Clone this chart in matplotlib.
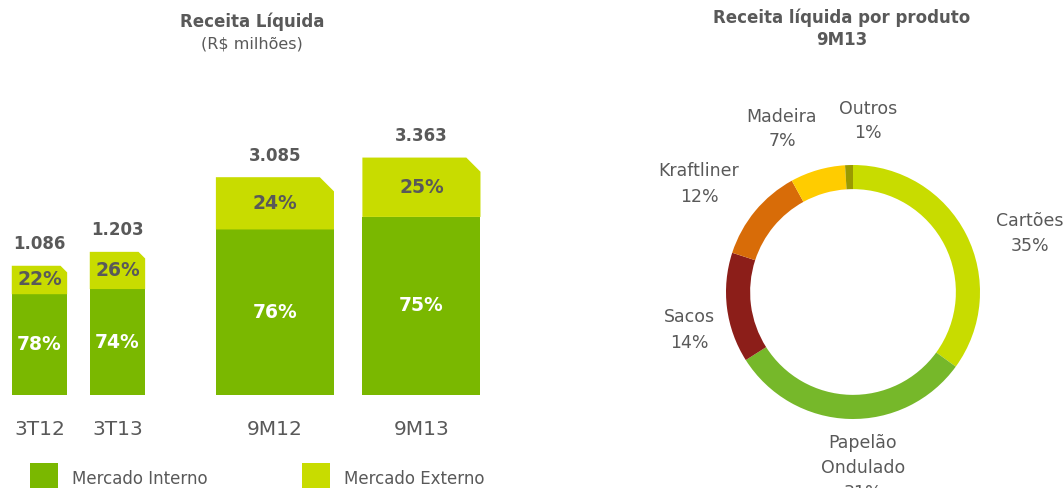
import matplotlib
matplotlib.use("Agg")
import matplotlib.pyplot as plt
from matplotlib.patches import Polygon, Rectangle

plt.rcParams['font.family'] = ['DejaVu Sans']

# ---------------- data ----------------
q_categories = ["3T12", "3T13"]
q_totals = [1086, 1203]
q_interno_pct = [78, 74]
q_externo_pct = [22, 26]

m_categories = ["9M12", "9M13"]
m_totals = [3085, 3363]
m_interno_pct = [76, 75]
m_externo_pct = [24, 25]

total_labels_q = ["1.086", "1.203"]
total_labels_m = ["3.085", "3.363"]

series_names = ["Mercado Interno", "Mercado Externo"]

prod_labels = ["Cartões", "Papelão\nOndulado", "Sacos", "Kraftliner", "Madeira", "Outros"]
prod_values = [35, 31, 14, 12, 7, 1]

# ---------------- style ----------------
C_INT = "#7AB800"
C_EXT = "#C8DC00"
GRAY = "#595959"
prod_colors = ["#C8DC00", "#76B82A", "#8C1E19", "#D86C08", "#FFCC00", "#9A9A00"]

W, H = 1064, 488
fig = plt.figure(figsize=(W / 100, H / 100), dpi=100)


def ax_px(x0, y_top, w, h):
    """axes from pixel coords (top-left origin)"""
    return fig.add_axes([x0 / W, (H - y_top - h) / H, w / W, h / H])


def draw_group(ax, cats, totals, ipct, epct, tlabels, width, xlim, ymax):
    ax.set_xlim(*xlim)
    ax.set_ylim(0, ymax)
    for s in ax.spines.values():
        s.set_visible(False)
    ax.set_yticks([])
    x = list(range(len(cats)))
    interno = [t * p / 100 for t, p in zip(totals, ipct)]
    externo = [t * p / 100 for t, p in zip(totals, epct)]
    ax.bar(x, interno, width=width, color=C_INT, linewidth=0)
    inv = ax.transData.inverted()
    for xi, yi, ye, tot, ip, ep, tl in zip(x, interno, externo, totals, ipct, epct, tlabels):
        x0, x1 = xi - width / 2, xi + width / 2
        top = yi + ye
        # clipped corner size: 12% of bar width, square in pixels
        cw = 0.12 * width
        p1 = ax.transData.transform((x1, top))
        p0 = ax.transData.transform((x1 - cw, top))
        cpx = p1[0] - p0[0]
        ch = top - inv.transform((p1[0], p1[1] - cpx))[1]
        poly = Polygon([(x0, yi), (x0, top), (x1 - cw, top), (x1, top - ch), (x1, yi)],
                       closed=True, facecolor=C_EXT, edgecolor="none")
        ax.add_patch(poly)
        ax.text(xi, yi / 2, f"{ip}%", ha="center", va="center", color="white",
                fontsize=13.5, fontweight="bold")
        ax.text(xi, yi + ye / 2, f"{ep}%", ha="center", va="center", color=GRAY,
                fontsize=13.5, fontweight="bold")
        ax.annotate(tl, (xi, top), xytext=(0, 9), textcoords="offset points",
                    ha="center", va="bottom", color=GRAY, fontsize=12, fontweight="bold")
    ax.set_xticks(x)
    ax.set_xticklabels(cats, fontsize=14.5, color=GRAY)
    ax.tick_params(axis="x", length=0, pad=18)


# quarterly bars
ax1 = ax_px(0, 60, 160, 335)
draw_group(ax1, q_categories, q_totals, q_interno_pct, q_externo_pct, total_labels_q,
           width=0.71, xlim=(-0.506, -0.506 + 160 / 78), ymax=335 / 0.119)

# 9M bars
ax2 = ax_px(180, 60, 340, 335)
draw_group(ax2, m_categories, m_totals, m_interno_pct, m_externo_pct, total_labels_m,
           width=0.806, xlim=(-0.648, -0.648 + 340 / 146.5), ymax=335 / 0.0706)

# left titles
fig.text(252 / W, 1 - 22 / H, "Receita Líquida", ha="center", va="center",
         fontsize=12, fontweight="bold", color=GRAY)
fig.text(252 / W, 1 - 44 / H, "(R$ milhões)", ha="center", va="center",
         fontsize=11.5, color=GRAY)

# legend
for xs, name, col in [(30, series_names[0], C_INT), (302, series_names[1], C_EXT)]:
    fig.patches.append(Rectangle((xs / W, (H - 495) / H), 28 / W, 32 / H,
                                 transform=fig.transFigure, facecolor=col,
                                 edgecolor="none"))
    fig.text((xs + 42) / W, 1 - 479 / H, name, ha="left", va="center",
             fontsize=12, color=GRAY)

# donut
cx, cy, R = 853, 292, 127
axd = ax_px(cx - R, cy - R, 2 * R, 2 * R)
axd.pie(prod_values, colors=prod_colors, startangle=90, counterclock=False,
        radius=1.0, wedgeprops=dict(width=0.19, linewidth=0))
axd.set_xlim(-1, 1)
axd.set_ylim(-1, 1)
axd.set_aspect("equal")
axd.axis("off")

label_pos = [(1030, 233), (863, 468), (689, 330), (699, 184), (782, 129), (868, 121)]
for (lx, ly), lab, v in zip(label_pos, prod_labels, prod_values):
    fig.text(lx / W, 1 - ly / H, f"{lab}\n{v}%", ha="center", va="center",
             fontsize=12.5, color=GRAY, linespacing=1.5)

fig.text(842 / W, 1 - 18 / H, "Receita líquida por produto", ha="center", va="center",
         fontsize=12, fontweight="bold", color=GRAY)
fig.text(842 / W, 1 - 40 / H, "9M13", ha="center", va="center",
         fontsize=12, fontweight="bold", color=GRAY)

fig.savefig("out.png", dpi=100)
